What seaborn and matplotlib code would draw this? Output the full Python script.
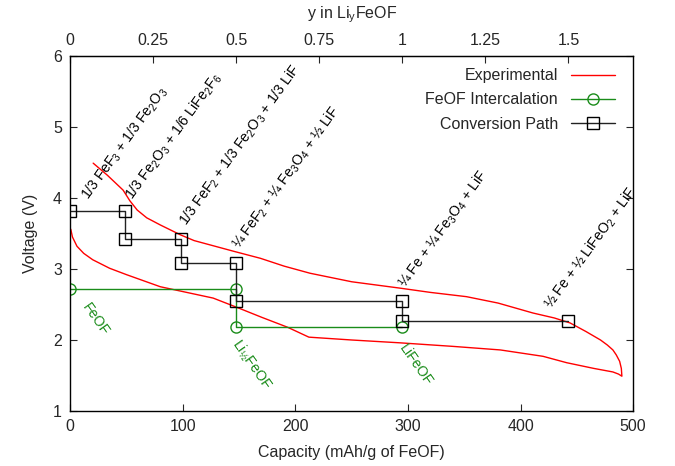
import numpy as np
import pandas as pd
import matplotlib
matplotlib.use("Agg")
import matplotlib.pyplot as plt
import seaborn as sns

# capacity of one Li per FeOF (mAh/g)
cap_per_li = 295.0

# experimental loop: discharge (lower) then charge (upper, back to the start)
exp_cap = [0.5, 2, 6, 12, 20, 35, 50, 80, 127, 148, 170, 193, 212,
           250, 293, 340, 382, 420, 441, 465, 482, 487, 490,
           489.5, 488, 485, 482, 477, 471, 458, 444, 430, 411, 380, 352, 320, 293, 250, 213,
           190, 169, 145, 124, 110, 98, 80, 68, 59.5, 53, 47, 33, 20.4]
exp_v = [3.56, 3.45, 3.32, 3.22, 3.13, 3.01, 2.92, 2.75, 2.59, 2.46, 2.32, 2.18, 2.04,
         2.00, 1.96, 1.91, 1.86, 1.77, 1.68, 1.60, 1.55, 1.52, 1.49,
         1.60, 1.70, 1.79, 1.86, 1.93, 2.00, 2.12, 2.24, 2.31, 2.38, 2.52, 2.61, 2.67, 2.73, 2.82, 2.94,
         3.04, 3.15, 3.25, 3.34, 3.40, 3.48, 3.62, 3.72, 3.83, 3.96, 4.11, 4.32, 4.49]

# FeOF intercalation path
int_cap = [0, 147.5, 147.5, 295]
int_v = [2.72, 2.72, 2.18, 2.18]

# conversion path
conv_cap = [0, 49, 49, 98, 98, 147.5, 147.5, 295, 295, 442.5]
conv_v = [3.82, 3.82, 3.42, 3.42, 3.09, 3.09, 2.55, 2.55, 2.27, 2.27]

# phase labels (black, rotated up)
phase_text = ["1/3 FeF$_3$ + 1/3 Fe$_2$O$_3$",
              "1/3 Fe$_2$O$_3$ + 1/6 LiFe$_2$F$_6$",
              "1/3 FeF$_2$ + 1/3 Fe$_2$O$_3$ + 1/3 LiF",
              "¼ FeF$_2$ + ¼ Fe$_3$O$_4$ + ½ LiF",
              "¼ Fe + ¼ Fe$_3$O$_4$ + LiF",
              "½ Fe + ½ LiFeO$_2$ + LiF"]
phase_x = [16.5, 55.5, 103.5, 150.5, 297.5, 427]
phase_y = [3.97, 3.97, 3.60, 3.28, 2.73, 2.43]

# intercalation labels (green, rotated down)
li_text = ["FeOF", "Li$_{½}$FeOF", "LiFeOF"]
li_x = [18.5, 152.5, 300]
li_y = [2.56, 2.05, 1.98]

top_ticks = [0, 0.25, 0.5, 0.75, 1, 1.25, 1.5]
top_labels = ["0", "0.25", "0.5", "0.75", "1", "1.25", "1.5"]

sns.set_style("ticks")
plt.rcParams['font.family'] = ['Liberation Sans', 'DejaVu Sans']
plt.rcParams['mathtext.fontset'] = 'custom'
plt.rcParams['mathtext.rm'] = 'Liberation Sans'
plt.rcParams['mathtext.it'] = 'Liberation Sans'
plt.rcParams['font.size'] = 11.5

green = '#1a8c1a'
fs = 11.5

fig = plt.figure(figsize=(6.75, 4.66), dpi=100)
ax = fig.add_axes([0.104, 0.118, 0.834, 0.762])

exp_df = pd.DataFrame({"cap": exp_cap, "v": exp_v})
sns.lineplot(data=exp_df, x="cap", y="v", sort=False, estimator=None,
             color='red', lw=1, label="Experimental", ax=ax)
sns.lineplot(x=int_cap, y=int_v, sort=False, estimator=None, color=green, lw=1,
             marker='o', markersize=8, markerfacecolor='none', markeredgecolor=green,
             markeredgewidth=1, label="FeOF Intercalation", ax=ax)
sns.lineplot(x=conv_cap, y=conv_v, sort=False, estimator=None, color='#222222', lw=1,
             marker='s', markersize=9, markerfacecolor='none', markeredgecolor='black',
             markeredgewidth=1, label="Conversion Path", ax=ax)

for t, x, y in zip(phase_text, phase_x, phase_y):
    ax.text(x, y, t, rotation=54, rotation_mode='anchor', ha='left', va='baseline',
            color='black', fontsize=10.2)
for t, x, y in zip(li_text, li_x, li_y):
    ax.text(x, y, t, rotation=-55, rotation_mode='anchor', ha='left', va='top',
            color=green, fontsize=10.3)

ax.set_xlim(0, 500)
ax.set_ylim(1, 6)
ax.set_xticks(np.arange(0, 501, 100))
ax.set_yticks(np.arange(1, 7, 1))
ax.set_xlabel("Capacity (mAh/g of FeOF)", labelpad=8)
ax.set_ylabel("Voltage (V)", labelpad=11)
ax.tick_params(direction='in', length=5, width=0.8, right=True, top=False, pad=6)
for s in ax.spines.values():
    s.set_linewidth(1)
    s.set_color('black')

sec = ax.secondary_xaxis('top', functions=(lambda c: c / cap_per_li, lambda y: y * cap_per_li))
sec.set_xticks(top_ticks)
sec.set_xticklabels(top_labels)
sec.tick_params(direction='in', length=5, width=0.8, pad=6)
sec.set_xlabel("y in Li$_y$FeOF", labelpad=10)

leg = ax.legend(loc='upper right', bbox_to_anchor=(0.994, 1.006), frameon=False,
                markerfirst=False, handlelength=2.8, labelspacing=0.575, fontsize=fs)

fig.savefig("out.png", dpi=100)
